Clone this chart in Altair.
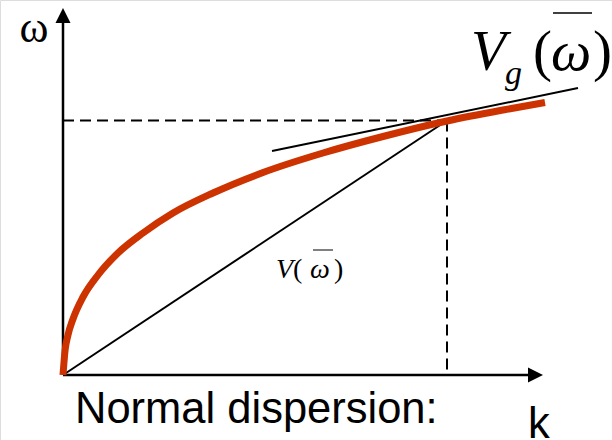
import altair as alt
import pandas as pd

# Dispersion curve omega(k) for normal dispersion (k, omega in plot units)
curve_k = [0, 0.02, 0.05, 0.10, 0.20, 0.35, 0.55, 0.80, 1.10, 1.50, 2.00,
           2.60, 3.20, 3.84, 4.40, 4.82]
curve_w = [0, 0.24, 0.40, 0.56, 0.78, 1.00, 1.22, 1.42, 1.62, 1.82, 2.025,
           2.22, 2.385, 2.54, 2.65, 2.725]

# Operating point (k-bar, omega-bar)
k0, w0 = 3.84, 2.545

# Tangent line (group velocity) end points
tan_k = [2.09, 5.15]
tan_w = [2.24, 2.87]

# Axis extents (line end, arrow-head centre)
x_axis_end, x_arrow = 4.65, 4.725
y_axis_end, y_arrow = 3.52, 3.595

xs = alt.Scale(domain=[-0.63, 5.49], nice=False, zero=False)
ys = alt.Scale(domain=[-0.65, 3.75], nice=False, zero=False)


def seg(k, w, **mark):
    df = pd.DataFrame({"k": k, "w": w, "o": list(range(len(k)))})
    return alt.Chart(df).mark_line(**mark).encode(
        x=alt.X("k:Q", scale=xs, axis=None),
        y=alt.Y("w:Q", scale=ys, axis=None),
        order="o:O",
    )


def txt(s, x, y, size, font="Liberation Serif", style="normal", align="left"):
    return alt.Chart(pd.DataFrame({"t": [s]})).mark_text(
        font=font, fontSize=size, fontStyle=style, align=align,
        baseline="alphabetic", color="black",
    ).encode(text="t:N", x=alt.value(x), y=alt.value(y))


def bar(x1, x2, y, w=1.5):
    return alt.Chart(pd.DataFrame({"a": [0]})).mark_rule(
        color="black", strokeWidth=w
    ).encode(x=alt.value(x1), x2=alt.value(x2), y=alt.value(y))


black = dict(color="black", strokeWidth=2)
dash = dict(color="black", strokeWidth=2, strokeDash=[11, 6])

axes = [
    seg([0, x_axis_end], [0, 0], color="black", strokeWidth=2.5),
    seg([0, 0], [0, y_axis_end], color="black", strokeWidth=2.5),
]

heads = alt.Chart(pd.DataFrame({
    "k": [x_arrow, 0], "w": [0, y_arrow],
    "s": ["M-1,-1L1,0L-1,1Z", "M-1,1L0,-1L1,1Z"],
})).mark_point(filled=True, color="black", opacity=1, size=225).encode(
    x=alt.X("k:Q", scale=xs, axis=None),
    y=alt.Y("w:Q", scale=ys, axis=None),
    shape=alt.Shape("s:N", scale=None, legend=None),
)

guides = [
    seg([0, k0], [w0, w0], **dash),
    seg([k0, k0], [w0, 0], **dash),
    seg([0, k0], [0, w0], **black),
    seg(tan_k, tan_w, **black),
]

curve = seg(curve_k, curve_w, color="#CC3300", strokeWidth=7,
            interpolate="monotone", strokeCap="butt")

labels = [
    txt("ω", 34, 42, 44, align="center"),
    txt("V", 471, 70, 57, style="italic"),
    txt("g", 505, 84, 34, style="italic"),
    txt("(", 533, 70, 57),
    txt("ω", 551, 70, 57, style="italic"),
    txt(")", 593, 70, 57),
    bar(553, 592, 13),
    txt("V", 276, 278, 28, style="italic"),
    txt("(", 293, 278, 28),
    txt("ω", 310, 278, 28, style="italic"),
    txt(")", 334, 278, 28),
    bar(313, 333, 250, 1),
    txt("Normal dispersion:", 75, 423, 43.5, font="Liberation Sans"),
    txt("k", 528, 438, 43.5, font="Liberation Sans"),
]

chart = alt.layer(*axes, heads, *guides, curve, *labels).properties(
    width=612, height=440, padding=0,
    autosize=alt.AutoSizeParams(type="none"),
).configure_view(stroke=None).configure(background="white")

chart.save("out.html", embed_options={"renderer": "svg", "actions": False})
